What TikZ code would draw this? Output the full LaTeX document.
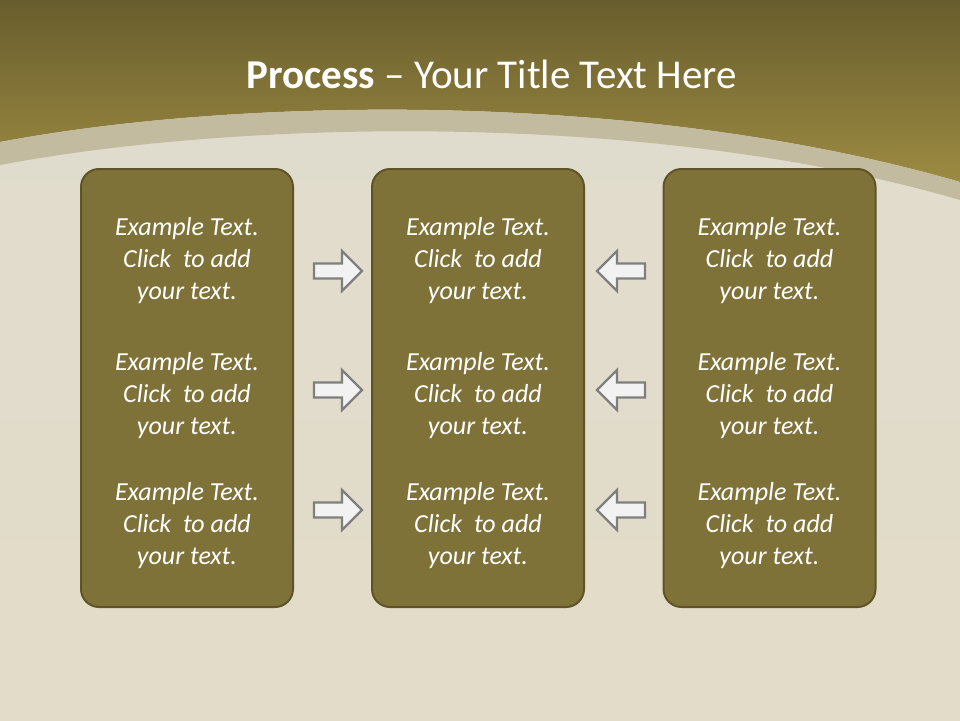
\documentclass[tikz,border=0pt]{standalone}
\usepackage{fontspec}
\setmainfont{Carlito}

\definecolor{bandtop}{HTML}{685D2D}
\definecolor{bandbot}{HTML}{9C8B42}
\definecolor{paperhi}{HTML}{E0DCCE}
\definecolor{paperlo}{HTML}{E2DCC8}
\definecolor{arcband}{HTML}{C2BB9F}
\definecolor{boxfill}{HTML}{7F7239}
\definecolor{boxline}{HTML}{5E5428}
\definecolor{arrowline}{HTML}{7F7F7F}
\definecolor{arrowfill}{HTML}{F2F2F2}

\tikzset{
  stage/.style={draw=boxline, line width=2pt, fill=boxfill, rounded corners=18pt,
    minimum width=212pt, minimum height=438pt},
  item/.style={text=white, font=\itshape\fontsize{26}{32}\selectfont, align=center},
  blockarrow/.style={draw=arrowline, fill=arrowfill, line width=2.2pt, line join=miter}
}

\begin{document}
\begin{tikzpicture}[x=1pt,y=-1pt]
  \useasboundingbox (0,0) rectangle (960,720);
  % background
  \shade[top color=paperhi, bottom color=paperlo] (0,0) rectangle (960,720);
  \shade[top color=bandtop, bottom color=bandbot]
    (0,0) -- (960,0) -- (960,182) .. controls (650,92) and (250,95) .. (0,142) -- cycle;
  \fill[arcband]
    (0,142) .. controls (250,95) and (650,92) .. (960,182) -- (960,200)
    .. controls (660,112) and (250,118) .. (0,165) -- cycle;

  \node[text=white, font=\fontsize{41}{48}\selectfont] (title) at (492,74)
    {\textbf{Process} -- Your Title Text Here};

  % three columns
  \foreach \bx/\nm in {187/left, 478/mid, 769.5/right} {
    \node[stage] (\nm) at (\bx,388) {};
    \foreach \ty [count=\i] in {261,396,526}
      \node[item] (\nm-\i) at (\bx,\ty) {Example Text.\\Click~ to add\\your text.};
  }

  % arrows
  \foreach \ay in {271,390,510} {
    \draw[blockarrow] (338,\ay) ++(-24,-7.5) -- ++(28,0) -- ++(0,-12.5) -- ++(20,20)
      -- ++(-20,20) -- ++(0,-12.5) -- ++(-28,0) -- cycle;
    \draw[blockarrow] (621,\ay) ++(24,-7.5) -- ++(-28,0) -- ++(0,-12.5) -- ++(-20,20)
      -- ++(20,20) -- ++(0,-12.5) -- ++(28,0) -- cycle;
  }
\end{tikzpicture}
\end{document}
